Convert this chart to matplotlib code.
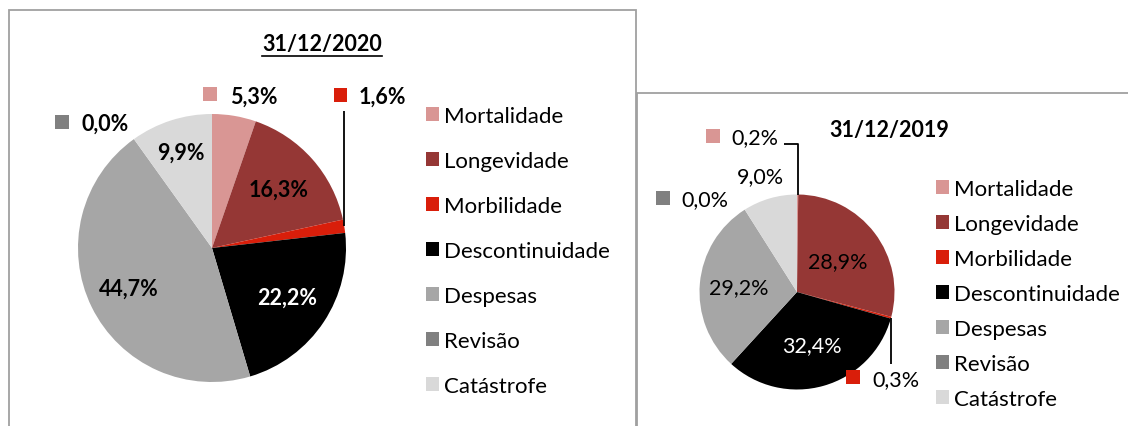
import numpy as np
import matplotlib
matplotlib.use("Agg")
import matplotlib.pyplot as plt
from matplotlib.patches import Rectangle

plt.rcParams['font.family'] = ['Lato', 'DejaVu Sans']

W, H = 1128, 427

# dados
categorias = ['Mortalidade', 'Longevidade', 'Morbilidade', 'Descontinuidade',
              'Despesas', 'Revisão', 'Catástrofe']
valores_2020 = [5.3, 16.3, 1.6, 22.2, 44.7, 0.0, 9.9]
valores_2019 = [0.2, 28.9, 0.3, 32.4, 29.2, 0.0, 9.0]
titulo_2020 = '31/12/2020'
titulo_2019 = '31/12/2019'

cores = ['#D99694', '#953735', '#D91E0A', '#000000', '#A6A6A6', '#808080', '#D9D9D9']
cor_texto = ['black', 'black', 'black', 'white', 'black', 'black', 'black']


def fmt(v):
    return f'{v:.1f}'.replace('.', ',') + '%'


fig = plt.figure(figsize=(W / 100, H / 100), dpi=100)
ax = fig.add_axes([0, 0, 1, 1])


def Y(y):
    # pixel a partir do topo -> coordenada do eixo
    return H - y


def edge_point(w, frac=1.0):
    ang = np.deg2rad((w.theta1 + w.theta2) / 2)
    cx, cy = w.center
    return cx + w.r * frac * np.cos(ang), cy + w.r * frac * np.sin(ang)


def desenha_pie(valores, cx, cy, r, bold, dist_interior, externos, leaders):
    wedges, _ = ax.pie(valores, colors=cores, startangle=90, counterclock=False,
                       center=(cx, Y(cy)), radius=r,
                       wedgeprops=dict(linewidth=0))
    weight = 'bold' if bold else 'normal'
    # etiquetas dentro do bolo
    for i, d in dist_interior.items():
        x, y = edge_point(wedges[i], d)
        ax.text(x, y, fmt(valores[i]), ha='center', va='center', fontsize=15.5,
                fontweight=weight, color=cor_texto[i])
    # etiquetas fora, com quadrado da cor
    for i, (tx, ty, quadrado) in externos.items():
        ax.text(tx, Y(ty), fmt(valores[i]), ha='left', va='center', fontsize=15.5,
                fontweight=weight, color='black')
        if quadrado:
            qx, qy = quadrado
            ax.add_patch(Rectangle((qx, Y(qy) - 6.5), 13.5, 13.5, color=cores[i], lw=0))
    # linhas de chamada
    for i, pts in leaders.items():
        x0, y0 = edge_point(wedges[i])
        xs = [x0] + [p[0] if p[0] is not None else x0 for p in pts]
        ys = [y0] + [Y(p[1]) for p in pts]
        ax.plot(xs, ys, color='black', lw=1.3, solid_capstyle='butt')
    return wedges


# caixas
ax.add_patch(Rectangle((9, Y(432)), 627, 421, fill=False, ec='#A0A0A0', lw=1.3))
ax.add_patch(Rectangle((637, Y(432)), 500, 338, fill=False, ec='#A0A0A0', lw=1.3))

w20 = desenha_pie(valores_2020, 212, 249, 134, True,
                  {1: 0.66, 3: 0.67, 4: 0.69, 6: 0.75},
                  {0: (230, 97, (203, 95)), 2: (359, 97, (333.5, 96)),
                   5: (81, 124, (55, 123))},
                  {2: [(None, 112)]})

w19 = desenha_pie(valores_2019, 797, 293, 97.5, False,
                  {1: 0.53, 3: 0.57, 4: 0.6},
                  {0: (731, 138, (706, 137)), 5: (681, 200, (656, 199)),
                   2: (872, 380, (846, 378)), 6: (737, 177, None)},
                  {0: [(None, 145), (784, 145)], 2: [(None, 365)]})

t20 = ax.text(322, Y(45), titulo_2020, ha='center', va='center', fontsize=15.5,
              fontweight='bold')
ax.text(889, Y(130), titulo_2019, ha='center', va='center', fontsize=15.5,
        fontweight='bold')

leg_kw = dict(loc='upper left', frameon=False, fontsize=16, borderpad=0,
              borderaxespad=0, handlelength=0.6, handleheight=0.6,
              handletextpad=0.22, bbox_transform=fig.transFigure)
leg1 = ax.legend(w20, categorias, bbox_to_anchor=(426 / W, 1 - 107 / H),
                 labelspacing=1.125, **leg_kw)
ax.add_artist(leg1)
ax.legend(w19, categorias, bbox_to_anchor=(936 / W, 1 - 180 / H),
          labelspacing=0.675, **leg_kw)

ax.set_xlim(0, W)
ax.set_ylim(0, H)
ax.set_aspect('auto')
ax.axis('off')

# sublinhado do título de 2020
fig.canvas.draw()
bb = t20.get_window_extent()
ax.plot([bb.x0, bb.x1], [Y(57), Y(57)], color='black', lw=1.2)

fig.savefig('out.png', dpi=100)
